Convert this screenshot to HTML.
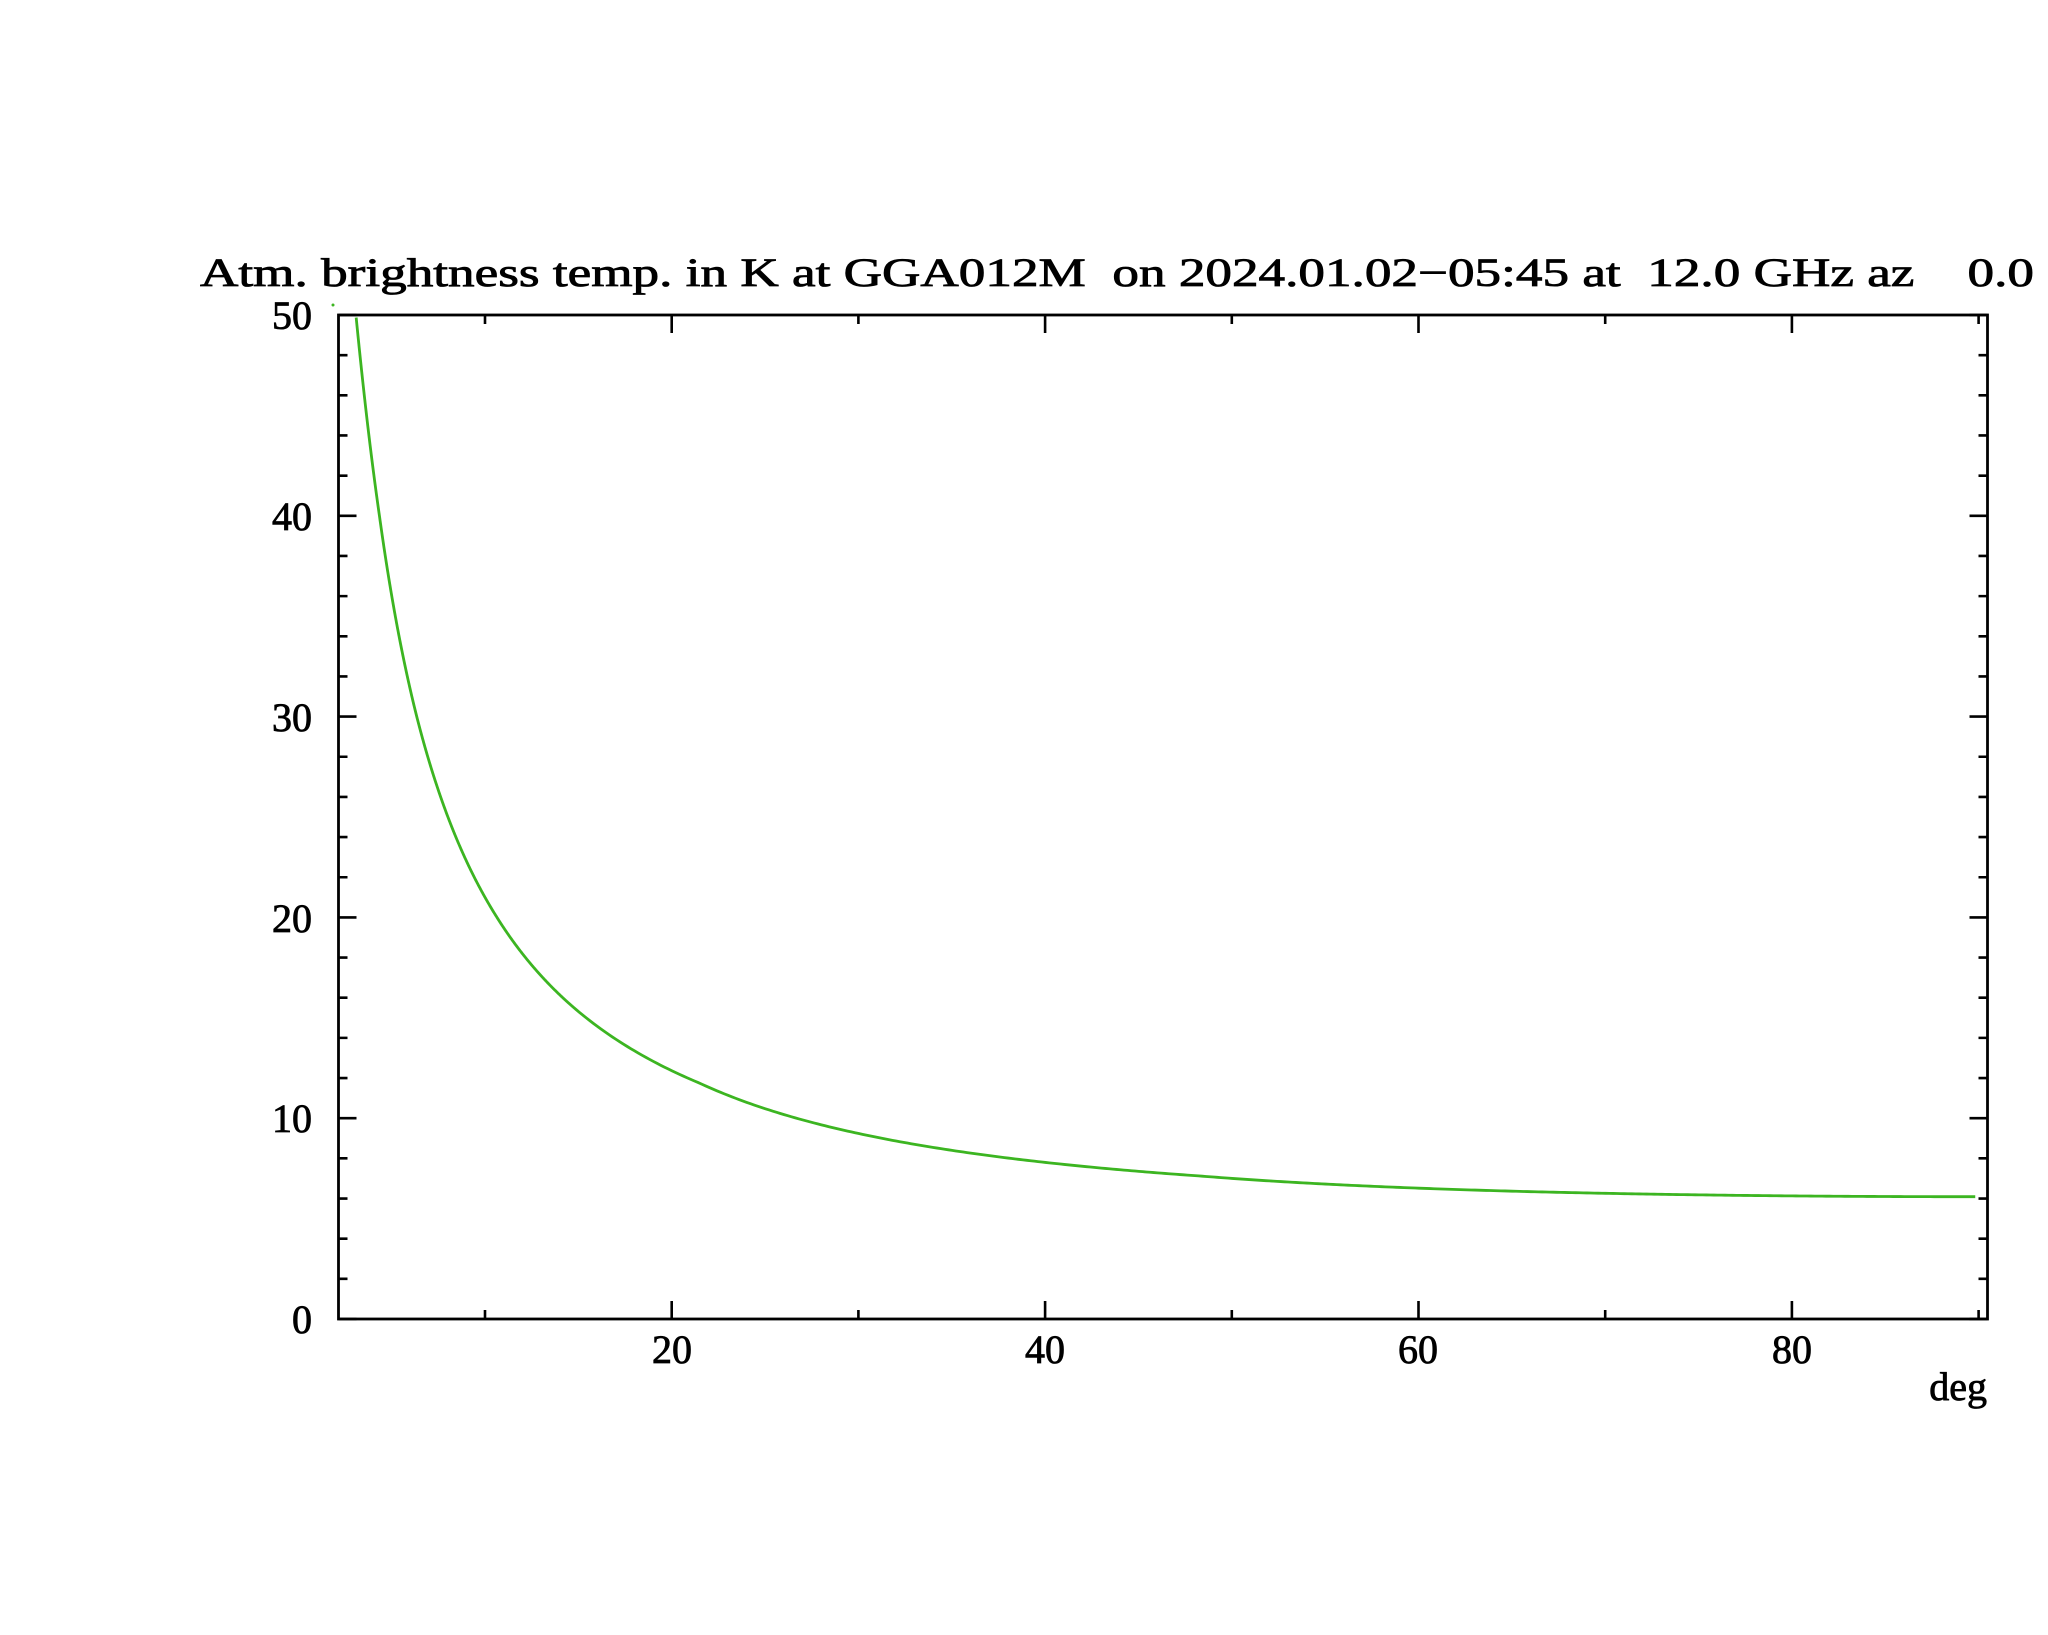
<!DOCTYPE html>
<html><head><meta charset="utf-8"><style>
html,body{margin:0;padding:0;background:#fff;}
svg{display:block;}
text{font-family:"Liberation Serif",serif;fill:#000;}
</style></head><body>
<svg id="s" width="2048" height="1635" viewBox="0 0 2048 1635" xmlns="http://www.w3.org/2000/svg">
<rect width="2048" height="1635" fill="#fff"/>
<text x="200" y="286" font-size="40" textLength="1834" lengthAdjust="spacingAndGlyphs" xml:space="preserve" stroke="#000" stroke-width="0.8">Atm. brightness temp. in K at GGA012M  on 2024.01.02−05:45 at  12.0 GHz az    0.0</text>
<g id="ticks" stroke="#000" stroke-width="2.6" fill="none"></g>
<rect x="338.5" y="315" width="1649" height="1004" fill="none" stroke="#000" stroke-width="2.8"/>
<g font-size="40" stroke="#000" stroke-width="0.8" text-anchor="end">
<text x="312" y="329">50</text>
<text x="312" y="530">40</text>
<text x="312" y="731">30</text>
<text x="312" y="932">20</text>
<text x="312" y="1132">10</text>
<text x="312" y="1333">0</text>
</g>
<g font-size="40" stroke="#000" stroke-width="0.8" text-anchor="middle">
<text x="672" y="1363">20</text>
<text x="1045" y="1363">40</text>
<text x="1418" y="1363">60</text>
<text x="1792" y="1363">80</text>
</g>
<text x="1987" y="1400" font-size="40" stroke="#000" stroke-width="0.8" text-anchor="end">deg</text>
<circle cx="333" cy="305" r="1.5" fill="#3cb521"/>
<path id="curve" d="" fill="none" stroke="#3cb521" stroke-width="2.8" stroke-linejoin="round"/>
</svg>
<script>
(function(){
var X0=298.3, XS=18.67, YB=1319, YS=20.08;
var g=document.getElementById('ticks'), d='';
for(var v=0;v<=50;v+=2){
  var y=YB-v*YS, L=(v%10==0)?18:9;
  d+='M338.5 '+y+'h'+L+'M1987.5 '+y+'h'+(-L);
}
for(var a=10;a<=90;a+=10){
  var x=X0+a*XS, L=(a%20==0)?18:9;
  d+='M'+x+' 1319v'+(-L)+'M'+x+' 315v'+L;
}
var p=document.createElementNS('http://www.w3.org/2000/svg','path');
p.setAttribute('d',d);g.appendChild(p);
var S=[1,1.094,1.339,2.729,3.25,5.42,9.06,13.2,18.55,25];
var K=[2.6,2.66,3.04,3.27,3.25,3.15,2.97,2.78,2.50,2.3];
function k(s){for(var i=0;i<S.length-1;i++){if(s<=S[i+1]){var t=(s-S[i])/(S[i+1]-S[i]);return K[i]+t*(K[i+1]-K[i]);}}return K[K.length-1];}
function T(e){var s=1/Math.sin(e*Math.PI/180);return 6.09+k(s)*(s-1);}
var pts=[],first=true;
for(var e=3.0;e<=90.0001;e+=(e<15?0.02:0.2)){
  var t=T(e); if(t>50) continue;
  pts.push((first?'M':'L')+(X0+e*XS).toFixed(2)+' '+(YB-t*YS).toFixed(2)); first=false;
}
document.getElementById('curve').setAttribute('d',pts.join(''));
})();
</script>
</body></html>
